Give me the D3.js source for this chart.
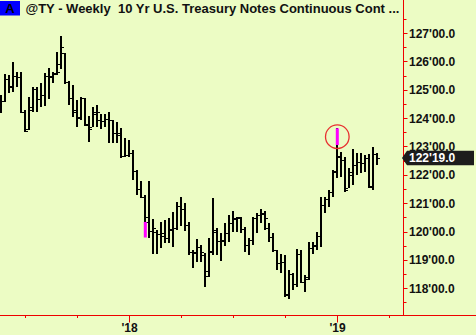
<!DOCTYPE html>
<html><head><meta charset="utf-8">
<script src="https://cdn.jsdelivr.net/npm/d3@7"></script>
<style>html,body{margin:0;padding:0;background:#ecfcc4;}svg{display:block;}</style>
</head><body>
<script>
// ---- data ----
const startWeek = "2017-05-26";   // first weekly bar
const highs = [124.81,125.55,125.52,125.98,125.62,125.62,124.28,124.74,125.09,125.09,
125.24,125.59,125.77,125.62,126.33,126.89,126.29,125.31,125.16,124.64,
124.74,124.71,124.07,124.39,124.46,124.14,124.14,124.21,123.93,123.86,
123.65,123.29,123.22,122.87,122.16,121.78,121.28,121.78,120.43,120.05,
120.33,120.40,120.47,120.68,121.03,121.21,121.00,120.33,119.34,119.73,
119.52,119.23,119.76,121.18,120.12,119.94,120.29,120.58,120.72,120.51,
120.51,120.15,119.76,120.51,120.65,120.79,120.72,120.29,119.94,119.34,
119.20,119.16,118.63,118.53,119.38,119.34,118.46,119.62,119.62,119.98,
121.21,121.21,121.46,122.16,123.65,122.80,122.62,122.23,122.91,122.76,
122.76,122.69,122.73,122.98,122.76];
const lows = [124.18,124.56,124.88,124.92,125.09,124.18,123.51,123.58,124.21,124.21,
124.39,124.42,124.67,125.24,125.52,125.73,125.20,124.46,124.04,123.68,
123.93,123.72,123.15,123.68,123.68,123.61,123.68,123.12,123.12,123.12,
122.59,122.62,122.62,121.81,121.28,121.18,119.80,119.76,119.20,119.20,
119.41,119.59,119.59,119.45,120.05,120.19,120.01,119.16,118.70,118.92,
118.92,118.03,118.39,119.16,119.16,118.95,119.48,119.62,119.98,119.98,
119.94,119.27,119.16,119.52,119.94,120.29,120.05,119.62,119.27,118.63,
118.53,117.68,117.61,117.93,118.03,118.18,117.86,118.28,119.20,119.34,
119.45,120.65,120.86,121.21,121.88,121.92,121.39,121.53,121.63,121.99,
122.06,122.09,121.53,121.46,122.34];
const opens = [124.64,124.60,125.38,125.09,125.48,125.45,124.21,123.61,124.28,125.02,
124.67,124.81,125.48,125.45,125.55,125.91,126.29,125.27,124.71,124.21,
124.04,124.71,123.79,123.68,124.14,123.93,123.89,123.96,123.93,123.47,
123.40,122.66,122.69,122.76,122.13,121.49,121.21,120.33,120.01,119.98,
119.91,119.83,119.76,120.05,120.12,120.89,120.79,120.22,119.27,119.27,
119.45,119.16,118.42,119.27,119.98,119.66,119.69,119.94,120.29,120.43,
120.47,120.08,119.52,119.69,120.47,120.58,120.61,120.12,119.80,119.34,
118.88,118.92,117.79,118.49,118.14,119.20,118.21,118.32,119.41,119.52,
119.83,120.93,121.14,121.39,122.09,122.62,122.52,121.53,122.09,122.34,
122.45,122.41,122.59,121.56,122.73];
const closes = [124.60,125.38,125.13,125.48,125.45,124.21,123.54,124.39,125.02,124.67,
124.81,125.48,125.48,125.59,125.62,126.51,125.27,124.71,124.28,124.00,
124.71,123.75,123.61,124.21,124.21,123.89,123.96,123.93,123.47,123.47,
122.66,122.69,122.76,122.13,121.49,121.21,120.51,120.01,120.12,119.91,
119.94,119.76,120.08,120.12,120.89,120.79,120.22,119.27,119.23,119.45,
119.27,118.60,119.31,120.05,119.66,119.66,119.94,120.29,120.47,120.51,
120.08,119.52,119.69,120.47,120.58,120.65,120.47,119.80,119.34,118.88,
118.92,117.75,118.49,118.14,119.20,118.21,118.39,119.41,119.48,119.83,
120.93,121.14,121.39,122.13,122.66,122.52,121.46,121.99,122.34,122.45,
122.41,122.59,121.60,122.73,122.594];
// highlighted bar segments (bar number, from price, to price)
const markBars = [37, 85];
const markLow  = [119.79, 123.05];
const markHigh = [120.34, 123.64];
const circledBar = 85;
// axis ticks
const yTickValues = [118,119,120,121,122,123,124,125,126,127];
const yMinorValues = [117.5,118.5,119.5,120.5,121.5,122.5,123.5,124.5,125.5,126.5,127.5];
const xTickDates = ["2017-07-07","2017-10-06","2018-01-05","2018-04-06","2018-07-06","2018-10-05","2019-01-04","2019-04-05"];
const xTickLabels = ["","","'18","","","","'19",""];
const titleText = "@TY - Weekly  10 Yr U.S. Treasury Notes Continuous Cont ...";
const lastPrice = 122.594;

// ---- chart ----
const W = 476, H = 335;
const parse = d3.utcParse("%Y-%m-%d");
const start = parse(startWeek);
const dates = highs.map((_, i) => d3.utcDay.offset(start, 7 * i));
const x = d3.scaleUtc().domain([start, d3.utcDay.offset(start, 700)]).range([1, 401]);
const y = d3.scaleLinear().domain([118, 127]).range([288.3, 33]);
const fmt = v => { const i = Math.floor(v + 1e-9); const t = Math.round((v - i) * 32); return i + "'" + String(t).padStart(2, "0") + ".0"; };

const svg = d3.select("body").append("svg").attr("width", W).attr("height", H);
svg.append("rect").attr("width", W).attr("height", H).attr("fill", "#ecfcc4");

const red = "#ee0000";
const axisX = 403.5, axisY = 315.5;

// bars
const g = svg.append("g");
dates.forEach((d, i) => {
  const cx = Math.round(x(d));
  g.append("rect").attr("x", cx - 1).attr("width", 2)
    .attr("y", Math.round(y(highs[i]))).attr("height", Math.max(1, Math.round(y(lows[i])) - Math.round(y(highs[i]))))
    .attr("fill", "#000");
  g.append("rect").attr("x", cx - 3).attr("width", 2).attr("y", Math.round(y(opens[i]))).attr("height", 1).attr("fill", "#000");
  g.append("rect").attr("x", cx + 1).attr("width", 2).attr("y", Math.round(y(closes[i]))).attr("height", 1).attr("fill", "#000");
});
// highlighted segments
markBars.forEach((b, k) => {
  const cx = x(dates[b - 1]);
  svg.append("rect").attr("x", cx - 1.2).attr("width", 3).attr("y", y(markHigh[k])).attr("height", y(markLow[k]) - y(markHigh[k])).attr("fill", "#ff00ff");
});
{
  const k = markBars.indexOf(circledBar);
  const cx = x(dates[circledBar - 1]) + 0.3, cy = (y(markHigh[k]) + y(markLow[k])) / 2;
  svg.append("circle").attr("cx", cx).attr("cy", cy).attr("r", 11.8).attr("fill", "none").attr("stroke", "#e83030").attr("stroke-width", 1.3);
}

// y axis
svg.append("line").attr("x1", axisX).attr("x2", axisX).attr("y1", 0).attr("y2", axisY).attr("stroke", red);
yMinorValues.forEach(v => svg.append("line").attr("x1", axisX).attr("x2", axisX + 3).attr("y1", Math.round(y(v)) + 0.5).attr("y2", Math.round(y(v)) + 0.5).attr("stroke", red));
yTickValues.forEach(v => {
  svg.append("line").attr("x1", axisX).attr("x2", axisX + 4).attr("y1", Math.round(y(v)) + 0.5).attr("y2", Math.round(y(v)) + 0.5).attr("stroke", red);
  svg.append("text").attr("x", 409).attr("y", y(v) + 4.5).text(fmt(v))
    .attr("font-family", "Liberation Sans, Arial, sans-serif").attr("font-weight", "bold").attr("font-size", 12).attr("fill", "#111");
});

// x axis
svg.append("line").attr("x1", 0).attr("x2", W).attr("y1", axisY).attr("y2", axisY).attr("stroke", red);
xTickDates.forEach((s, i) => {
  const tx = Math.round(x(parse(s))) + 0.5;
  const major = xTickLabels[i] !== "";
  svg.append("line").attr("x1", tx).attr("x2", tx).attr("y1", axisY).attr("y2", axisY + (major ? 7 : 2.5)).attr("stroke", red);
  if (major) svg.append("text").attr("x", tx).attr("y", 332).attr("text-anchor", "middle").text(xTickLabels[i])
    .attr("font-family", "Liberation Sans, Arial, sans-serif").attr("font-weight", "bold").attr("font-size", 12).attr("fill", "#111");
});

// last price box
{
  const py = y(lastPrice);
  svg.append("path").attr("d", `M402,${py} L407,${py - 7.3} H474 V${py + 7.3} H407 Z`).attr("fill", "#1c1c1c");
  svg.append("text").attr("x", 409).attr("y", py + 4.5).text(fmt(lastPrice))
    .attr("font-family", "Liberation Sans, Arial, sans-serif").attr("font-weight", "bold").attr("font-size", 12).attr("fill", "#fff");
}

// title
svg.append("rect").attr("x", 0).attr("y", 1).attr("width", 20).attr("height", 14.5).attr("fill", "#0000ff");
svg.append("text").attr("x", 10).attr("y", 13.3).attr("text-anchor", "middle").text("A")
  .attr("font-family", "Liberation Sans, Arial, sans-serif").attr("font-weight", "bold").attr("font-size", 13).attr("fill", "#000");
svg.append("text").attr("x", 25.5).attr("y", 13.3).attr("xml:space", "preserve").style("white-space", "pre").text(titleText)
  .attr("font-family", "Liberation Sans, Arial, sans-serif").attr("font-weight", "bold").attr("font-size", 13).attr("fill", "#111");
</script>
</body></html>
